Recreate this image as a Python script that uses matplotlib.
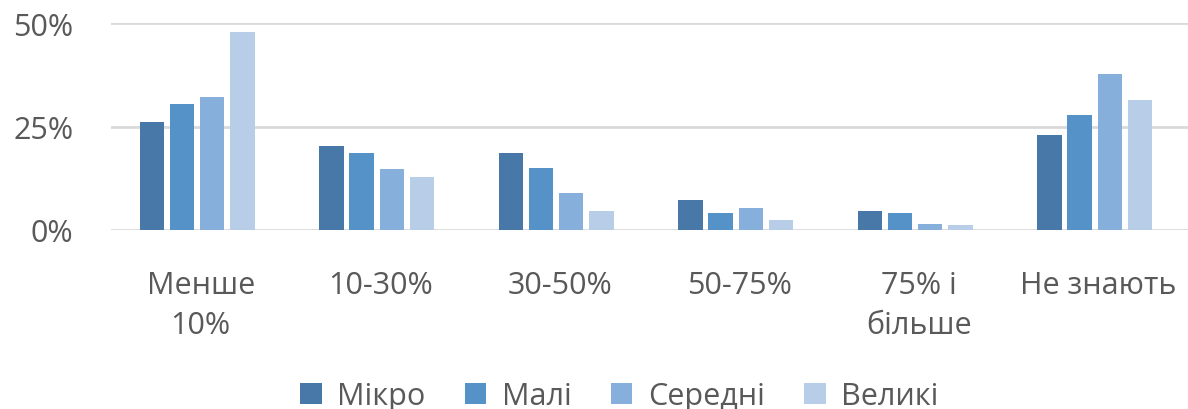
import matplotlib
matplotlib.use("Agg")
import matplotlib.pyplot as plt
import numpy as np
from matplotlib.ticker import PercentFormatter

plt.rcParams['font.family'] = ['Open Sans', 'DejaVu Sans']

categories = ["Менше\n10%", "10-30%", "30-50%", "50-75%", "75% і\nбільше", "Не знають"]
series = ["Мікро", "Малі", "Середні", "Великі"]
mikro = [26.2, 20.4, 18.7, 7.2, 4.5, 22.9]
mali = [30.4, 18.7, 14.9, 4.0, 4.0, 27.7]
seredni = [32.2, 14.7, 8.9, 5.2, 1.3, 37.6]
velyki = [47.8, 12.8, 4.5, 2.3, 1.1, 31.5]
colors = ["#4878A8", "#5592C8", "#87AFDC", "#B8CDE8"]

text_col = "#595959"

fig = plt.figure(figsize=(11.88, 4.10), dpi=100)
ax = fig.add_axes([0.0934, 0.437, 0.9066, 0.504])

x = np.arange(len(categories))
pitch = 0.168
width = 0.136
for i, (vals, name) in enumerate(zip([mikro, mali, seredni, velyki], series)):
    ax.bar(x + (i - 1.5) * pitch - 0.02, vals, width, color=colors[i], label=name, zorder=3)

ax.set_xlim(-0.5, len(categories) - 0.5)
ax.set_ylim(0, 50)
ax.set_yticks([0, 25, 50])
ax.yaxis.set_major_formatter(PercentFormatter(decimals=0))
ax.grid(axis="y", color="#D9D9D9", linewidth=2, zorder=0)
for s in ax.spines.values():
    s.set_visible(False)
ax.tick_params(axis="both", length=0, colors=text_col)
ax.tick_params(axis="y", pad=27, labelsize=22)
ax.tick_params(axis="x", pad=29, labelsize=22)
ax.set_xticks(x)
ax.set_xticklabels(categories, linespacing=1.45)

ax.legend(loc="upper center", bbox_to_anchor=(0.472, -0.6), ncol=4, frameon=False,
          fontsize=22, labelcolor=text_col, handlelength=0.7, handleheight=0.7,
          handletextpad=0.5, columnspacing=1.3)

fig.savefig("out.png", dpi=100)
